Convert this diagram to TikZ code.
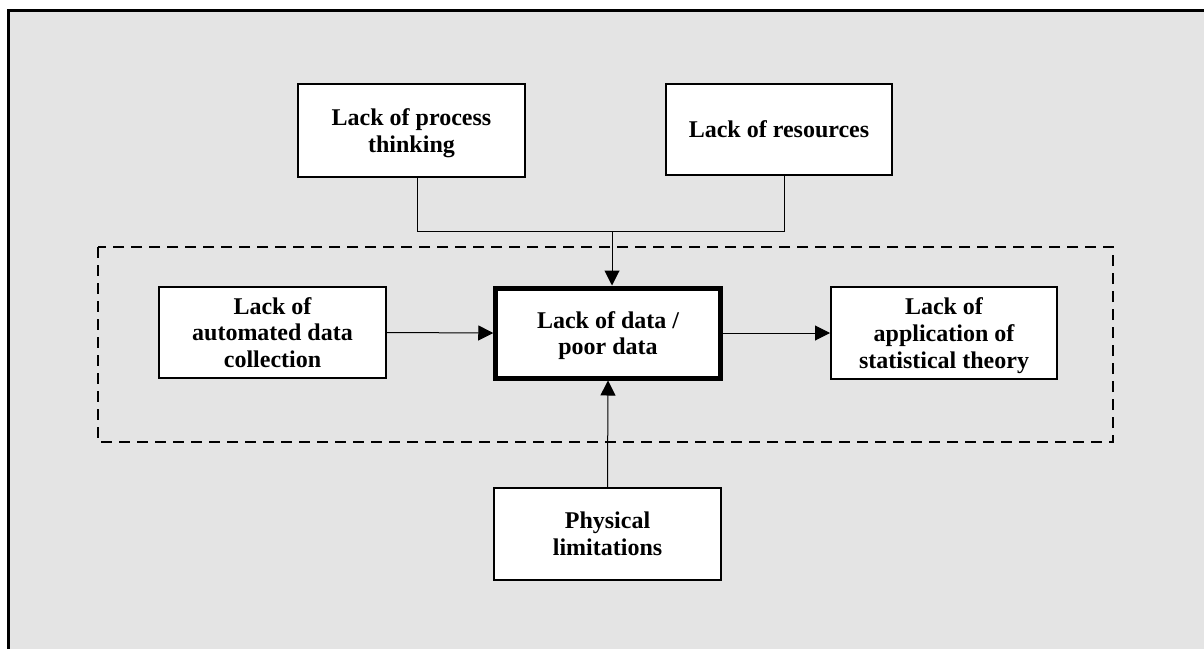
\documentclass[tikz,border=0pt]{standalone}
\usepackage{fontspec}
\setmainfont{Liberation Serif}
\usetikzlibrary{arrows.meta}
\definecolor{panel}{HTML}{E4E4E4}
\begin{document}
\begin{tikzpicture}[x=1pt,y=-1pt,
  box/.style={draw=black,fill=white,line width=2pt,rectangle,align=center,
    inner sep=0pt,text depth=0pt,font=\fontsize{24}{26.7}\selectfont\bfseries},
  keybox/.style={box,line width=5pt},
  link/.style={draw=black,line width=1pt},
  arrow/.style={link,-{Triangle[length=15pt,width=15pt]}}]
  \useasboundingbox (0,0) rectangle (1204,648);
  \clip (0,0) rectangle (1204,648);
  % page panel with its frame running off the right and bottom
  \draw[fill=panel,line width=3pt] (8.3,10.3) rectangle (1220,670);
  % dashed grouping frame
  \draw[line width=2pt,dash pattern=on 11pt off 7pt] (98,247) rectangle (1113,442);

  \node[box,minimum width=227pt,minimum height=93pt] (pt) at (411.5,130.5) {Lack of process\\thinking};
  \node[box,minimum width=226pt,minimum height=91pt] (res) at (779,129.5) {Lack of resources};
  \node[box,minimum width=227pt,minimum height=91pt] (auto) at (272.5,332.5) {Lack of\\automated data\\collection};
  \node[keybox,minimum width=224.5pt,minimum height=90pt] (data) at (608,333) {Lack of data /\\poor data};
  \node[box,minimum width=226pt,minimum height=92pt] (app) at (944,333) {Lack of\\application of\\statistical theory};
  \node[box,minimum width=227pt,minimum height=92pt] (phys) at (607.5,534) {Physical\\limitations};

  \coordinate (join) at (612,231.5);
  \draw[link] ([xshift=5.5pt]pt.south) |- (join);
  \draw[link] ([xshift=5pt]res.south) |- (join);
  \draw[arrow] (join) -- (join |- data.north);
  \draw[arrow] (auto.east) -- (data.west);
  \draw[arrow] (data.east) -- (app.west);
  \draw[arrow] (phys.north) -- (data.south);
\end{tikzpicture}
\end{document}
